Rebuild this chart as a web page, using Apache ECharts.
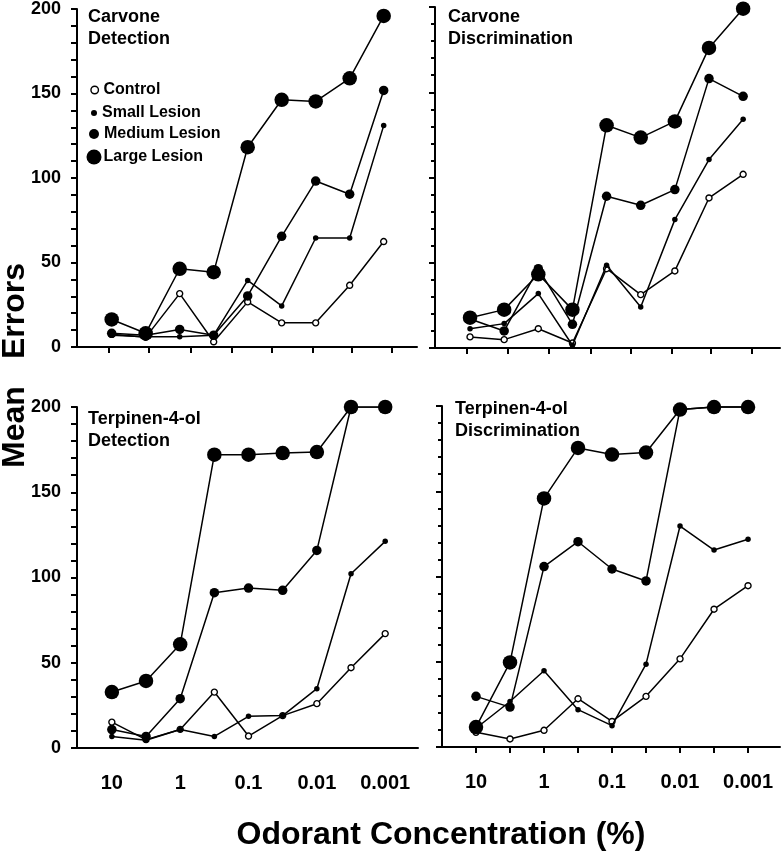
<!DOCTYPE html>
<html>
<head>
<meta charset="utf-8">
<script src="https://cdn.jsdelivr.net/npm/echarts@6/dist/echarts.min.js"></script>
<style>
html,body{margin:0;padding:0;background:#fff;}
#chart{width:781px;height:853px;}
</style>
</head>
<body>
<div id="chart"></div>
<script>
// Odorant concentrations (%), half-log steps, plotted as log10
const concentrations = ['10','3.16','1','0.316','0.1','0.0316','0.01','0.00316','0.001'];
const logConc = [1, 0.5, 0, -0.5, -1, -1.5, -2, -2.5, -3];
const tickLabelValues = [1, 0, -1, -2, -3];
const tickLabels = ['10', '1', '0.1', '0.01', '0.001'];
const topTickValues = [1.05, 0.45, -0.16, -0.77, -1.36, -1.95, -2.53, -3.12];

const seriesNames = ['Control', 'Small Lesion', 'Medium Lesion', 'Large Lesion'];
const panelTitles = ['Carvone\nDetection', 'Carvone\nDiscrimination', 'Terpinen-4-ol\nDetection', 'Terpinen-4-ol\nDiscrimination'];

// Carvone Detection
const carvDetControl = [7.5, 5.7, 31.6, 3.1, 26.7, 14.3, 14.3, 36.5, 62.4];
const carvDetSmall   = [7, 6, 6, 7, 39.4, 24.3, 64.5, 64.5, 131];
const carvDetMedium  = [8.1, 7, 10.4, 7, 30.2, 65.5, 98.2, 90.4, 151.8];
const carvDetLarge   = [16.3, 8.1, 46.3, 44.3, 118.2, 146.3, 145.3, 159, 195.9];
// Carvone Discrimination
const carvDisControl = [6.5, 4.9, 11.3, 2.9, 46.5, 31.3, 45.2, 88, 101.9];
const carvDisSmall   = [11.3, 14.3, 31.9, 1.6, 48.5, 24, 75.3, 110.5, 134.1];
const carvDisMedium  = [17, 10, 46.5, 13.9, 89, 83.7, 92.9, 158, 147.6];
const carvDisLarge   = [17.8, 22.5, 43.2, 22.5, 130.6, 123.4, 132.9, 176, 199];
// Terpinen-4-ol Detection
const terpDetControl = [15.2, 4.9, 10.9, 32.8, 7, 19, 26, 47.1, 67.1];
const terpDetSmall   = [6.8, 4.5, 10.9, 6.8, 18.6, 19, 34.8, 102.2, 121.2];
const terpDetMedium  = [10.8, 6.8, 28.9, 91.1, 93.8, 92.5, 115.9, 200, 200];
const terpDetLarge   = [32.8, 39.3, 60.8, 172, 172, 173, 173.6, 200, 200];
// Terpinen-4-ol Discrimination
const terpDisControl = [8.6, 4.7, 9.8, 28.3, 15, 29.7, 51.7, 80.8, 94.6];
const terpDisSmall   = [11, 26.7, 44.7, 21.9, 12.5, 48.6, 129.6, 115.5, 121.8];
const terpDisMedium  = [29.7, 23.4, 105.8, 120.4, 104.4, 97.4, 198, 199.4, 199.4];
const terpDisLarge   = [11.7, 49.6, 145.8, 175.4, 171.5, 172.7, 197.9, 199.4, 199.4];

const panels = [
  [carvDetControl, carvDetSmall, carvDetMedium, carvDetLarge],
  [carvDisControl, carvDisSmall, carvDisMedium, carvDisLarge],
  [terpDetControl, terpDetSmall, terpDetMedium, terpDetLarge],
  [terpDisControl, terpDisSmall, terpDisMedium, terpDisLarge]
];

const FONT = "'Liberation Sans', Arial, Helvetica, sans-serif";
const symbolSizes = [6, 5.5, 9.5, 14.5];
const legendSizes = [7.5, 6, 10, 15];

const grids = [
  {left: 77, top: 7, width: 340, height: 340},
  {left: 435, top: 7, width: 345, height: 341},
  {left: 77, top: 407, width: 341, height: 341},
  {left: 442, top: 406, width: 338, height: 341}
];
const xRanges = [[-3.49, 1.51], [-3.54, 1.513], [-3.48, 1.51], [-3.47, 1.5]];

const axisLine = {show: true, onZero: false, lineStyle: {color: '#000', width: 2}};

const xAxes = grids.map((g, i) => {
  const ax = {
    type: 'value', gridIndex: i, inverse: true,
    min: xRanges[i][0], max: xRanges[i][1],
    axisLine: axisLine,
    splitLine: {show: false},
    axisTick: {show: false},
    axisLabel: {show: false}
  };
  if (i < 2) {
    ax.axisTick = {show: true, customValues: topTickValues, length: 6, lineStyle: {color: '#000', width: 2}};
  }
  if (i === 3) {
    ax.axisTick = {show: true, customValues: logConc, length: 6, lineStyle: {color: '#000', width: 2}};
  }
  if (i >= 2) {
    ax.axisLabel = {
      show: true, customValues: tickLabelValues, margin: 25,
      formatter: v => { const k = tickLabelValues.findIndex(t => Math.abs(t - v) < 1e-6); return k >= 0 ? tickLabels[k] : ''; },
      color: '#000', fontSize: 20, fontWeight: 'bold', fontFamily: FONT
    };
  }
  return ax;
});

const yAxes = grids.map((g, i) => ({
  type: 'value', gridIndex: i, min: 0, max: 200, interval: 50,
  axisLine: axisLine,
  splitLine: {show: false},
  axisTick: {show: true, length: 6, lineStyle: {color: '#000', width: 2}},
  minorTick: {show: true, splitNumber: 5, length: (i % 2 === 0) ? 6 : 4, lineStyle: {color: '#000', width: 2}},
  minorSplitLine: {show: false},
  axisLabel: {
    show: i % 2 === 0, margin: 16,
    color: '#000', fontSize: 18, fontWeight: 'bold', fontFamily: FONT
  }
}));

const series = [];
panels.forEach((sets, p) => {
  sets.forEach((vals, s) => {
    series.push({
      name: seriesNames[s],
      type: 'line',
      xAxisIndex: p, yAxisIndex: p,
      data: logConc.map((x, k) => [x, vals[k]]),
      symbol: 'circle',
      symbolSize: symbolSizes[s],
      showAllSymbol: true,
      z: 2 + s,
      lineStyle: {color: '#000', width: 1.5},
      itemStyle: s === 0 ? {color: '#fff', borderColor: '#000', borderWidth: 1.4} : {color: '#000', borderColor: '#000', borderWidth: 0},
      emphasis: {disabled: true},
      animation: false
    });
  });
});

const legendCenters = [90, 113, 134, 157];
const legends = seriesNames.map((n, s) => ({
  data: [n],
  left: 94 - legendSizes[s] / 2,
  top: legendCenters[s] - Math.max(legendSizes[s], 16) / 2,
  padding: 0,
  icon: 'circle',
  itemWidth: legendSizes[s], itemHeight: legendSizes[s],
  selectedMode: false,
  itemStyle: s === 0 ? {color: '#fff', borderColor: '#000', borderWidth: 1.4} : {color: '#000', borderWidth: 0},
  textStyle: {color: '#000', fontSize: 16, fontWeight: 'bold', fontFamily: FONT, padding: s === 3 ? [0, 0, 0, -3] : 0}
}));

const titlePos = [[88, 6], [448, 6], [88, 408.5], [455, 398.5]];
const titles = panelTitles.map((t, i) => ({
  text: t, left: titlePos[i][0], top: titlePos[i][1], padding: 0,
  textStyle: {color: '#000', fontSize: 18, fontWeight: 'bold', fontFamily: FONT, lineHeight: 22}
}));

const chart = echarts.init(document.getElementById('chart'), null, {renderer: 'canvas'});
chart.setOption({
  animation: false,
  backgroundColor: '#fff',
  title: titles,
  legend: legends,
  grid: grids,
  xAxis: xAxes,
  yAxis: yAxes,
  series: series,
  graphic: [
    {type: 'text', x: 441, y: 835, style: {text: 'Odorant Concentration (%)', font: 'bold 32px ' + FONT, fill: '#000', align: 'center', verticalAlign: 'middle'}},
    {type: 'text', x: 15, y: 311, rotation: Math.PI / 2, style: {text: 'Errors', font: 'bold 32px ' + FONT, fill: '#000', align: 'center', verticalAlign: 'middle'}},
    {type: 'text', x: 15, y: 427, rotation: Math.PI / 2, style: {text: 'Mean', font: 'bold 32px ' + FONT, fill: '#000', align: 'center', verticalAlign: 'middle'}}
  ]
});
</script>
</body>
</html>
